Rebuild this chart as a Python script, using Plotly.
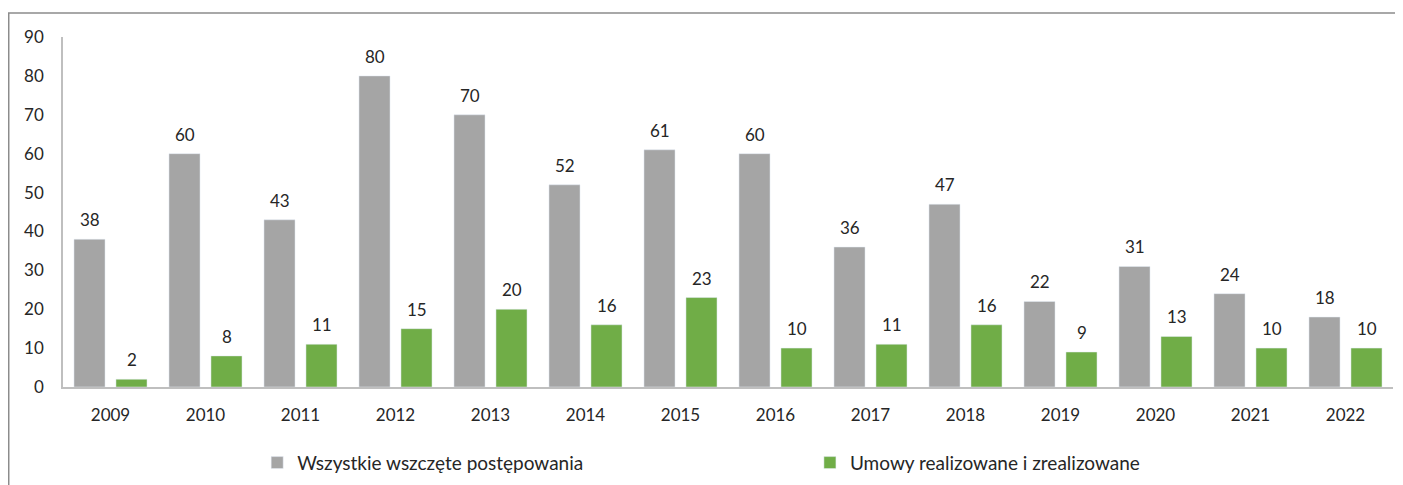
import plotly.graph_objects as go

years = ["2009", "2010", "2011", "2012", "2013", "2014", "2015", "2016", "2017", "2018", "2019", "2020", "2021", "2022"]
all_proc = [38, 60, 43, 80, 70, 52, 61, 60, 36, 47, 22, 31, 24, 18]
contracts = [2, 8, 11, 15, 20, 16, 23, 10, 11, 16, 9, 13, 10, 10]
name_all = "Wszystkie wszczęte postępowania"
name_con = "Umowy realizowane i zrealizowane"

GRAY = "#A5A5A5"
GREEN = "#70AD47"
FONT = "Lato, 'Open Sans', sans-serif"
TXT = "#262626"

fig = go.Figure()
fig.add_trace(go.Bar(x=years, y=all_proc, name=name_all, marker_color=GRAY, legend="legend"))
fig.add_trace(go.Bar(x=years, y=contracts, name=name_con, marker_color=GREEN, legend="legend2"))

# data labels placed on the category axis (index of each category)
for series, shift in ((all_proc, -21), (contracts, 21)):
    for i, v in enumerate(series):
        fig.add_annotation(x=i, y=v, xref="x", yref="y", text=str(v), showarrow=False, xshift=shift,
                           yanchor="bottom", yshift=7, font=dict(family=FONT, size=17, color=TXT))

# outer chart frame (partly cropped on right/bottom in the reference)
fig.add_shape(type="rect", xref="paper", yref="paper", x0=-0.0408, x1=1.2, y0=-0.6, y1=1.0686,
              line=dict(color="#8C8C8C", width=1.5), layer="below")

leg_common = dict(orientation="h", y=-0.2164, yanchor="middle", xanchor="left",
                  font=dict(size=19, color=TXT, family=FONT), itemwidth=30, bgcolor="rgba(0,0,0,0)")
fig.update_layout(
    width=1395, height=477,
    margin=dict(l=55, r=10, t=29, b=98, autoexpand=False),
    paper_bgcolor="white", plot_bgcolor="white",
    barmode="group", bargap=0.116, bargroupgap=0.26,
    font=dict(family=FONT, size=17, color=TXT),
    showlegend=True,
    legend=dict(x=0.146, **leg_common),
    legend2=dict(x=0.5616, **leg_common),
)
fig.update_xaxes(type="category", range=[-0.5, len(years) - 0.5], showline=True, linecolor="#BFBFBF",
                 linewidth=1.5, ticks="", showgrid=False, ticklabelstandoff=12,
                 tickfont=dict(size=17, color=TXT))
fig.update_yaxes(range=[0, 90], dtick=10, showline=True, linecolor="#BFBFBF", linewidth=1.5,
                 ticks="", showgrid=False, zeroline=False, ticklabelstandoff=14,
                 tickfont=dict(size=17, color=TXT))

fig.write_html("out.html")
